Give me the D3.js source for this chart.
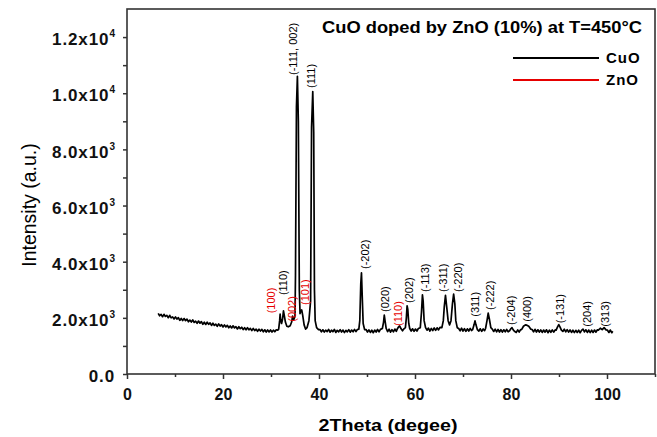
<!DOCTYPE html>
<html>
<head>
<meta charset="utf-8">
<script src="https://cdn.jsdelivr.net/npm/d3@7"></script>
<style>
  body { margin: 0; background: #fff; }
  svg { display: block; font-family: "Liberation Sans", Arial, sans-serif; }
</style>
</head>
<body>
<div id="chart"></div>
<script>
const xTicks = [0, 20, 40, 60, 80, 100];
const xMinorTicks = [10, 30, 50, 70, 90, 110];
const yTicks = [0, 2000, 4000, 6000, 8000, 10000, 12000];
const yMinorTicks = [1000, 3000, 5000, 7000, 9000, 11000];
const yMantissa = ["0.0", "2.0", "4.0", "6.0", "8.0", "1.0", "1.2"];
const yExponent = [null, 3, 3, 3, 3, 4, 4];

const chartTitle = "CuO doped by ZnO (10%) at T=450°C";
const legendNames = ["CuO", "ZnO"];
const legendColors = ["#000000", "#e60000"];

// [2theta, intensity]
const scan = [
  [6.5,2160],[6.8,2075],[7.1,2125],[7.4,2040],[7.7,2125],[8.0,2050],[8.3,2090],[8.6,2005],
  [8.9,2090],[9.2,2000],[9.5,2035],[9.8,1960],[10.1,2035],[10.4,1955],[10.7,2005],[11.0,1910],
  [11.3,1980],[11.6,1905],[11.9,1975],[12.2,1900],[12.5,1955],[12.8,1860],[13.1,1920],[13.4,1850],
  [13.7,1925],[14.0,1835],[14.3,1880],[14.6,1805],[14.9,1885],[15.2,1810],[15.5,1865],[15.8,1770],
  [16.1,1845],[16.4,1765],[16.7,1845],[17.0,1770],[17.3,1820],[17.6,1730],[17.9,1810],[18.2,1730],
  [18.5,1775],[18.8,1700],[19.1,1785],[19.4,1705],[19.7,1755],[20.0,1675],[20.3,1750],[20.6,1675],
  [20.9,1735],[21.2,1645],[21.5,1710],[21.8,1640],[22.1,1715],[22.4,1640],[22.7,1685],[23.0,1605],
  [23.3,1685],[23.6,1615],[23.9,1665],[24.2,1580],[24.5,1650],[24.8,1575],[25.1,1650],[25.4,1575],
  [25.7,1625],[26.0,1545],[26.3,1625],[26.6,1545],[26.9,1595],[27.2,1520],[27.5,1595],[27.8,1530],
  [28.1,1590],[28.4,1505],[28.7,1575],[29.0,1495],[29.3,1570],[29.6,1500],[29.9,1570],[30.2,1495],
  [30.5,1560],[30.8,1505],[31.1,1575],[31.4,1560],
  [31.6,1600],[31.8,1900],[31.9,2130],[32.0,1950],[32.2,1800],[32.4,1950],[32.6,2250],[32.8,2050],
  [33.0,1850],[33.3,1700],[33.6,1680],[34.0,1720],[34.3,1850],[34.5,2060],[34.7,1920],[35.0,2050],
  [35.1,3500],[35.3,9500],[35.5,10600],[35.7,9000],[35.9,3000],[36.05,2150],[36.2,2250],[36.4,2280],
  [36.6,2100],[36.9,1750],[37.2,1600],[37.5,1650],[37.9,1900],[38.25,2600],[38.45,8800],[38.7,10060],
  [38.9,8600],[39.05,3000],[39.2,1900],[39.5,1650],[39.9,1580],
  [40.2,1585],[40.5,1500],[40.8,1575],[41.1,1495],[41.4,1560],[41.7,1510],[42.0,1590],[42.3,1490],
  [42.6,1560],[42.9,1505],[43.2,1585],[43.5,1480],[43.8,1555],[44.1,1500],[44.4,1580],[44.7,1495],
  [45.0,1565],[45.3,1475],[45.6,1555],[45.9,1500],[46.2,1580],[46.5,1490],[46.8,1565],[47.1,1505],
  [47.4,1590],[47.7,1510],[48.0,1585],
  [48.3,1600],[48.5,1900],[48.7,3200],[48.85,3600],[49.0,2800],[49.2,1800],[49.5,1580],
  [49.8,1585],[50.1,1495],[50.4,1570],[50.7,1480],[51.0,1560],[51.3,1470],[51.6,1565],[51.9,1495],
  [52.2,1585],[52.5,1500],[52.8,1590],
  [53.2,1620],[53.45,1850],[53.6,2100],[53.8,1850],[54.0,1620],
  [54.3,1510],[54.6,1595],[54.9,1490],[55.2,1580],[55.5,1500],[55.8,1600],[56.1,1520],
  [56.3,1600],[56.6,1680],[56.8,1710],[57.1,1610],
  [57.4,1540],[57.7,1610],
  [58.0,1650],[58.2,2000],[58.35,2430],[58.5,2300],[58.7,1800],[58.9,1620],
  [59.2,1530],[59.5,1610],[59.8,1520],[60.1,1600],[60.4,1530],[60.7,1620],
  [61.1,1650],[61.35,2200],[61.55,2820],[61.7,2600],[61.9,1900],[62.2,1650],
  [62.5,1560],[62.8,1635],[63.1,1530],[63.4,1625],[63.7,1545],[64.0,1640],[64.3,1555],[64.6,1645],
  [64.9,1570],[65.2,1660],
  [65.6,1650],[65.9,1900],[66.1,2400],[66.35,2800],[66.6,2400],[66.9,1900],[67.2,1750],[67.5,1900],
  [67.8,2500],[68.05,2850],[68.3,2500],[68.5,1900],[68.8,1650],
  [69.1,1620],[69.4,1540],[69.7,1630],[70.0,1530],[70.3,1615],[70.6,1520],[70.9,1610],[71.2,1530],
  [71.5,1620],[71.8,1550],
  [72.0,1580],[72.3,1750],[72.5,1890],[72.7,1750],[73.0,1580],
  [73.3,1530],[73.6,1610],[73.9,1520],[74.2,1605],[74.5,1545],
  [74.7,1620],[75.0,1900],[75.25,2170],[75.5,1950],[75.8,1650],
  [76.1,1600],[76.4,1515],[76.7,1595],[77.0,1500],[77.3,1585],[77.6,1495],[77.9,1580],[78.2,1490],
  [78.5,1575],[78.8,1500],[79.1,1585],[79.4,1505],
  [79.7,1540],[80.0,1620],[80.2,1650],[80.5,1560],
  [80.8,1510],[81.1,1480],[81.4,1570],[81.7,1495],[82.0,1580],
  [82.2,1580],[82.6,1700],[83.0,1750],[83.3,1740],[83.7,1700],[84.1,1600],
  [84.4,1585],[84.7,1500],[85.0,1590],[85.3,1495],[85.6,1575],[85.9,1490],[86.2,1570],[86.5,1480],
  [86.8,1565],[87.1,1490],[87.4,1575],[87.7,1470],[88.0,1560],[88.3,1485],[88.6,1570],[88.9,1490],
  [89.2,1570],
  [89.4,1560],[89.7,1680],[89.95,1760],[90.2,1680],[90.5,1560],
  [90.8,1515],[91.1,1595],[91.4,1500],[91.7,1580],[92.0,1490],[92.3,1570],[92.6,1480],[92.9,1560],
  [93.2,1475],[93.5,1555],[93.8,1480],[94.1,1560],[94.4,1470],[94.7,1555],
  [95.0,1600],[95.3,1500],[95.6,1575],[95.9,1480],[96.2,1565],[96.5,1475],[96.8,1560],[97.1,1480],
  [97.4,1565],[97.7,1490],[98.0,1575],
  [98.2,1560],[98.6,1630],[99.0,1580],[99.4,1650],[99.8,1570],
  [100.1,1560],[100.4,1480],[100.7,1565],[101.0,1470],[101.2,1520]
];

// [label centre 2theta, intensity at label start, text, phase index]
const peakLabels = [
  [30.1, 2160, "(100)", 1],
  [32.6, 2810, "(110)", 0],
  [34.3, 1860, "(002)", 1],
  [34.6, 10650, "(-111, 002)", 0],
  [37.1, 2460, "(101)", 1],
  [38.3, 10190, "(111)", 0],
  [49.6, 3740, "(-202)", 0],
  [53.75, 2210, "(020)", 0],
  [56.4, 1710, "(110)", 1],
  [58.75, 2530, "(202)", 0],
  [62.1, 2920, "(-113)", 0],
  [65.9, 2920, "(-311)", 0],
  [68.9, 2920, "(-220)", 0],
  [72.4, 2040, "(311)", 0],
  [75.6, 2280, "(-222)", 0],
  [80.0, 1745, "(-204)", 0],
  [83.4, 1860, "(400)", 0],
  [90.2, 1805, "(-131)", 0],
  [95.8, 1685, "(204)", 0],
  [99.6, 1685, "(313)", 0]
];

class ChartBuilder {
  constructor() {
    this._width = 657;
    this._height = 437;
    this._left = 127;
    this._right = 655;
    this._top = 9;
    this._bottom = 374;
  }

  _buildContainer() {
    this._svg = d3.select("#chart")
      .append("svg")
      .attr("width", this._width)
      .attr("height", this._height);
  }

  _buildScales() {
    this._x = d3.scaleLinear().domain([0, 110]).range([this._left, this._right]);
    this._y = d3.scaleLinear().domain([0, 13000]).range([this._bottom, this._top]);
  }

  _buildAxes() {
    const svg = this._svg;

    svg.append("g")
      .attr("transform", "translate(0," + this._bottom + ")")
      .call(d3.axisBottom(this._x).tickValues(xMinorTicks).tickSize(3).tickFormat(""))
      .call(g => g.select(".domain").remove());

    const xAxis = svg.append("g")
      .attr("transform", "translate(0," + this._bottom + ")")
      .call(d3.axisBottom(this._x).tickValues(xTicks).tickSize(5).tickPadding(10))
      .call(g => g.select(".domain").remove());
    xAxis.selectAll("text")
      .attr("font-size", 16)
      .attr("font-weight", "bold")
      .attr("font-family", "Liberation Sans, Arial, sans-serif")
      .attr("fill", "#111");

    svg.append("g")
      .attr("transform", "translate(" + this._left + ",0)")
      .call(d3.axisLeft(this._y).tickValues(yMinorTicks).tickSize(4).tickFormat(""))
      .call(g => g.select(".domain").remove());

    const yAxis = svg.append("g")
      .attr("transform", "translate(" + this._left + ",0)")
      .call(d3.axisLeft(this._y).tickValues(yTicks).tickSize(4).tickPadding(8))
      .call(g => g.select(".domain").remove());
    yAxis.selectAll(".tick text")
      .attr("font-size", 17)
      .attr("font-weight", "bold")
      .attr("font-family", "Liberation Sans, Arial, sans-serif")
      .attr("letter-spacing", 0.9)
      .attr("fill", "#111")
      .attr("dy", "0.45em")
      .each(function (d, i) {
        const t = d3.select(this).text(null);
        t.append("tspan").text(yMantissa[i] + (yExponent[i] ? "x10" : ""));
        if (yExponent[i]) {
          t.append("tspan")
            .attr("dy", -8)
            .attr("font-size", 10)
            .attr("letter-spacing", 0)
            .text(yExponent[i]);
        }
      });

    svg.selectAll(".tick line").attr("stroke", "#333").attr("stroke-width", 1.5);

    // plot frame
    svg.append("rect")
      .attr("x", this._left)
      .attr("y", this._top)
      .attr("width", this._right - this._left)
      .attr("height", this._bottom - this._top)
      .attr("fill", "none")
      .attr("stroke", "#333")
      .attr("stroke-width", 1.6);
  }

  _buildLine() {
    const line = d3.line()
      .x(d => this._x(d[0]))
      .y(d => this._y(d[1]));

    this._svg.append("path")
      .datum(scan)
      .attr("d", line)
      .attr("fill", "none")
      .attr("stroke", "#000")
      .attr("stroke-width", 1.7)
      .attr("stroke-linejoin", "round");
  }

  _buildPeakLabels() {
    this._svg.append("g")
      .selectAll("text")
      .data(peakLabels)
      .enter()
      .append("text")
      .attr("transform", d => "translate(" + this._x(d[0]) + "," + this._y(d[1]) + ") rotate(-90)")
      .attr("dominant-baseline", "central")
      .attr("font-size", 11)
      .attr("fill", d => legendColors[d[3]])
      .text(d => d[2]);
  }

  _buildTitles() {
    const svg = this._svg;

    svg.append("text")
      .attr("x", 388)
      .attr("y", 431)
      .attr("text-anchor", "middle")
      .attr("font-size", 17)
      .attr("font-weight", "bold")
      .attr("textLength", 139)
      .attr("lengthAdjust", "spacingAndGlyphs")
      .text("2Theta (degee)");

    svg.append("text")
      .attr("transform", "translate(36,205) rotate(-90)")
      .attr("text-anchor", "middle")
      .attr("font-size", 19.5)
      .text("Intensity (a.u.)");

    svg.append("text")
      .attr("x", 322)
      .attr("y", 33)
      .attr("font-size", 16.5)
      .attr("font-weight", "bold")
      .attr("textLength", 320)
      .attr("lengthAdjust", "spacingAndGlyphs")
      .text(chartTitle);
  }

  _buildLegend() {
    const rows = this._svg.append("g")
      .selectAll("g")
      .data(legendNames)
      .enter()
      .append("g")
      .attr("transform", (d, i) => "translate(0," + (58 + i * 22) + ")");

    rows.append("line")
      .attr("x1", 513)
      .attr("x2", 599)
      .attr("stroke", (d, i) => legendColors[i])
      .attr("stroke-width", 2);

    rows.append("text")
      .attr("x", 606)
      .attr("y", 5)
      .attr("font-size", 15)
      .attr("font-weight", "bold")
      .attr("letter-spacing", 1)
      .text(d => d);
  }

  build() {
    this._buildContainer();
    this._buildScales();
    this._buildAxes();
    this._buildLine();
    this._buildPeakLabels();
    this._buildTitles();
    this._buildLegend();
  }
}

new ChartBuilder().build();
</script>
</body>
</html>
